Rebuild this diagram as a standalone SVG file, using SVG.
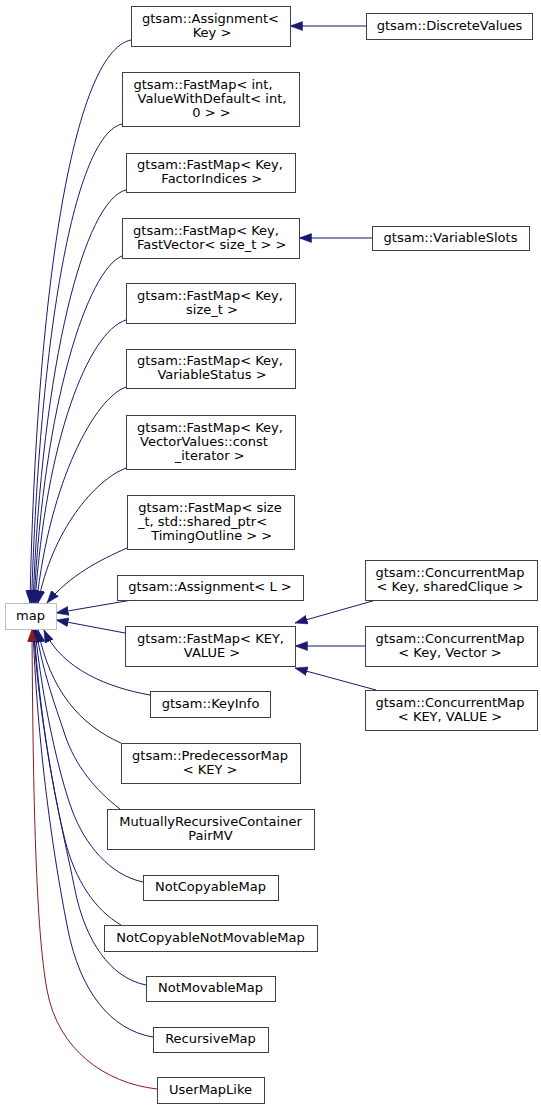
<svg xmlns="http://www.w3.org/2000/svg" width="541" height="1109" viewBox="0 0 541 1109">
<style>
.n rect{fill:#fff;stroke:#404040;stroke-width:1}
.n text{font-family:"DejaVu Sans","Liberation Sans",sans-serif;font-size:13px;fill:#000;text-anchor:middle}
.e path{fill:none;stroke:#191970;stroke-width:1;marker-end:url(#ab)}
.e path.r{stroke:#8b1a1a;marker-end:url(#ar)}
</style>
<defs>
<marker id="ab" markerUnits="userSpaceOnUse" markerWidth="13" markerHeight="10" viewBox="0 0 13 10" refX="12.5" refY="5" orient="auto"><path d="M0,0.5 L12.5,5 L0,9.5 z" fill="#191970" stroke="#191970" stroke-width="0.5"/></marker>
<marker id="ar" markerUnits="userSpaceOnUse" markerWidth="13" markerHeight="10" viewBox="0 0 13 10" refX="12.5" refY="5" orient="auto"><path d="M0,0.5 L12.5,5 L0,9.5 z" fill="#8b1a1a" stroke="#8b1a1a" stroke-width="0.5"/></marker>
</defs>
<rect width="541" height="1109" fill="#fff"/>
<g id="edges" class="e">
<path d="M131,40 C72,52 36,300 30,603"/>
<path d="M122,124 C75,135 40,330 31.5,603"/>
<path d="M126,190 C85,200 42,360 33,603"/>
<path d="M122,256 C88,270 44,400 34,603"/>
<path d="M126,320 C88,332 46,440 35,603"/>
<path d="M126,387 C95,398 50,480 36.5,603"/>
<path d="M126,468 C95,480 52,530 38,603"/>
<path d="M127,548 C100,560 70,575 47,603"/>
<path d="M132,600 L56,613"/>
<path d="M125,633 L56,620"/>
<path d="M150,695 C110,688 62,670 44,630"/>
<path d="M121,743 C80,725 50,690 38,630"/>
<path d="M120,809 C95,790 75,765 65,735 S42,670 36,629"/>
<path d="M143,882 C110,875 85,845 72,810 S42,700 35,629"/>
<path d="M121,925 C95,910 75,880 65,840 S40,720 34,629"/>
<path d="M146,985 C110,978 85,940 75,890 S40,740 33.5,629"/>
<path d="M153,1037 C110,1030 80,990 68,930 S38,760 33,629"/>
<path class="r" d="M157,1089 C105,1083 58,1050 47,990 S33,800 32,629"/>
<path d="M366,26 L290,26"/>
<path d="M372,238 L299,238"/>
<path d="M376,600 L295,623"/>
<path d="M365,646 L295,646"/>
<path d="M376,690 L295,668"/>
</g>
<g id="map" class="n"><rect x="5.5" y="603.5" width="51" height="26" style="stroke:#bfbfbf"/><text x="30.5" y="620">map</text></g>
<g id="assign_key" class="n"><rect x="131.5" y="6.5" width="159" height="40"/><text x="210.5" y="22.5">gtsam::Assignment&lt;</text><text x="212" y="36.5">Key &gt;</text></g>
<g id="fastmap_int" class="n"><rect x="122.5" y="72.5" width="177" height="54"/><text x="203" y="88.5">gtsam::FastMap&lt; int,</text><text x="212" y="102.5">ValueWithDefault&lt; int,</text><text x="211.5" y="116.5">0 &gt; &gt;</text></g>
<g id="fastmap_factor" class="n"><rect x="126.5" y="153.5" width="169" height="39"/><text x="210" y="169">gtsam::FastMap&lt; Key,</text><text x="211.7" y="183">FactorIndices &gt;</text></g>
<g id="fastmap_fastvector" class="n"><rect x="122.5" y="218.5" width="177" height="40"/><text x="206" y="234.5">gtsam::FastMap&lt; Key,</text><text x="211.7" y="248.5">FastVector&lt; size_t &gt; &gt;</text></g>
<g id="fastmap_sizet" class="n"><rect x="126.5" y="283.5" width="169" height="40"/><text x="210" y="299.5">gtsam::FastMap&lt; Key,</text><text x="212" y="313.5">size_t &gt;</text></g>
<g id="fastmap_varstatus" class="n"><rect x="126.5" y="349.5" width="169" height="39"/><text x="210" y="365">gtsam::FastMap&lt; Key,</text><text x="212" y="379">VariableStatus &gt;</text></g>
<g id="fastmap_vecvalues" class="n"><rect x="126.5" y="415.5" width="169" height="54"/><text x="210" y="431.5">gtsam::FastMap&lt; Key,</text><text x="204" y="445.5">VectorValues::const</text><text x="209.7" y="459.5">_iterator &gt;</text></g>
<g id="fastmap_timing" class="n"><rect x="127.5" y="495.5" width="167" height="54"/><text x="210" y="511.5">gtsam::FastMap&lt; size</text><text x="202.5" y="525.5">_t, std::shared_ptr&lt;</text><text x="211.7" y="539.5">TimingOutline &gt; &gt;</text></g>
<g id="assign_l" class="n"><rect x="117.5" y="575.5" width="186" height="25"/><text x="210" y="591">gtsam::Assignment&lt; L &gt;</text></g>
<g id="fastmap_keyvalue" class="n"><rect x="125.5" y="626.5" width="170" height="40"/><text x="210.5" y="642.5">gtsam::FastMap&lt; KEY,</text><text x="212" y="656.5">VALUE &gt;</text></g>
<g id="keyinfo" class="n"><rect x="150.5" y="691.5" width="120" height="26"/><text x="210.5" y="708">gtsam::KeyInfo</text></g>
<g id="predmap" class="n"><rect x="121.5" y="743.5" width="179" height="40"/><text x="210" y="759.5">gtsam::PredecessorMap</text><text x="210" y="773.5">&lt; KEY &gt;</text></g>
<g id="mutual" class="n"><rect x="107.5" y="809.5" width="207" height="40"/><text x="210.5" y="825.5">MutuallyRecursiveContainer</text><text x="210.5" y="839.5">PairMV</text></g>
<g id="notcopyable" class="n"><rect x="143.5" y="875.5" width="135" height="25"/><text x="210.5" y="891">NotCopyableMap</text></g>
<g id="notcopyablenotmovable" class="n"><rect x="104.5" y="925.5" width="213" height="26"/><text x="210.5" y="942">NotCopyableNotMovableMap</text></g>
<g id="notmovable" class="n"><rect x="146.5" y="976.5" width="129" height="25"/><text x="210.5" y="992">NotMovableMap</text></g>
<g id="recursive" class="n"><rect x="153.5" y="1027.5" width="115" height="25"/><text x="210.5" y="1043">RecursiveMap</text></g>
<g id="usermaplike" class="n"><rect x="157.5" y="1077.5" width="107" height="26"/><text x="210.5" y="1094">UserMapLike</text></g>
<g id="discretevalues" class="n"><rect x="366.5" y="13.5" width="166" height="26"/><text x="449.5" y="30">gtsam::DiscreteValues</text></g>
<g id="variableslots" class="n"><rect x="372.5" y="226.5" width="157" height="24"/><text x="450.5" y="242">gtsam::VariableSlots</text></g>
<g id="conc_clique" class="n"><rect x="365.5" y="560.5" width="172" height="40"/><text x="450" y="576.5">gtsam::ConcurrentMap</text><text x="450" y="590.5">&lt; Key, sharedClique &gt;</text></g>
<g id="conc_vector" class="n"><rect x="365.5" y="626.5" width="172" height="40"/><text x="450" y="642.5">gtsam::ConcurrentMap</text><text x="450" y="656.5">&lt; Key, Vector &gt;</text></g>
<g id="conc_keyvalue" class="n"><rect x="365.5" y="690.5" width="172" height="40"/><text x="450" y="706.5">gtsam::ConcurrentMap</text><text x="450" y="720.5">&lt; KEY, VALUE &gt;</text></g>
</svg>
